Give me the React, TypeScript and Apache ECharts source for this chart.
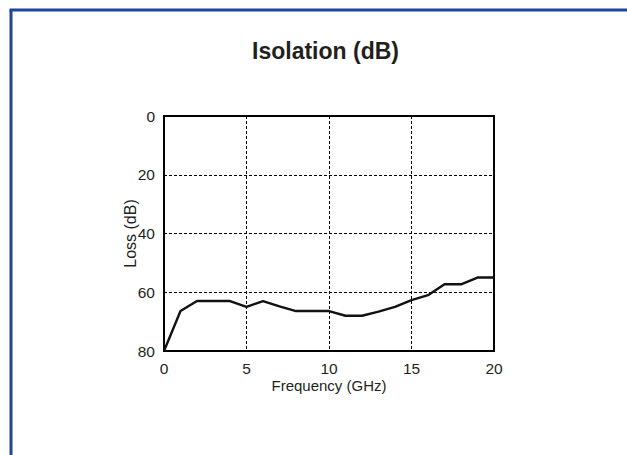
import React, { useEffect, useRef } from "react";
import * as echarts from "echarts";

const frequencies = [0, 1, 2, 3, 4, 5, 6, 7, 8, 9, 10, 11, 12, 13, 14, 15, 16, 17, 18, 19, 20];
const isolation = [80, 66.4, 63, 63, 63, 65, 63, 64.8, 66.4, 66.4, 66.4, 68, 68, 66.6, 65, 62.7, 61, 57.3, 57.3, 55, 55];
const titleText = "Isolation (dB)";
const xName = "Frequency (GHz)";
const yName = "Loss (dB)";

const FONT = "'Liberation Sans', Arial, Helvetica, sans-serif";
const TXT = "#231f20";

export default function App() {
  const ref = useRef<HTMLDivElement>(null);
  useEffect(() => {
    if (!ref.current) return;
    const chart = echarts.init(ref.current, null, { renderer: "svg" });
    chart.setOption({
      animation: false,
      backgroundColor: "#ffffff",
      title: {
        text: titleText,
        left: 320.5,
        textAlign: "center",
        top: 34,
        textStyle: { fontFamily: FONT, fontSize: 23, fontWeight: "bold", color: TXT },
      },
      graphic: [
        { type: "line", shape: { x1: 11, y1: 10, x2: 11, y2: 455 }, style: { stroke: "#1f4596", lineWidth: 3 } },
        { type: "line", shape: { x1: 9.5, y1: 10, x2: 627, y2: 10 }, style: { stroke: "#1f4596", lineWidth: 3 } },
      ],
      grid: {
        left: 164,
        top: 116,
        width: 330,
        height: 235,
        show: true,
        borderColor: "#000",
        borderWidth: 2,
        backgroundColor: "transparent",
      },
      xAxis: {
        type: "value",
        min: 0,
        max: 20,
        interval: 5,
        name: xName,
        nameLocation: "middle",
        nameGap: 27,
        nameMoveOverlap: false,
        nameTextStyle: { fontFamily: FONT, fontSize: 15, color: TXT },
        axisLine: { show: false },
        axisTick: { show: false },
        axisLabel: { fontFamily: FONT, fontSize: 15.5, color: TXT, margin: 9 },
        splitLine: { show: true, lineStyle: { color: "#000", width: 1, type: [3, 2] } },
      },
      yAxis: {
        type: "value",
        min: 0,
        max: 80,
        interval: 20,
        inverse: true,
        name: yName,
        nameLocation: "middle",
        nameGap: 26,
        nameMoveOverlap: false,
        nameTextStyle: { fontFamily: FONT, fontSize: 16, color: TXT },
        axisLine: { show: false },
        axisTick: { show: false },
        axisLabel: { fontFamily: FONT, fontSize: 15.5, color: TXT, margin: 9 },
        splitLine: { show: true, lineStyle: { color: "#000", width: 1, type: [3, 2] } },
      },
      series: [
        {
          type: "line",
          data: frequencies.map((f, i) => [f, isolation[i]]),
          showSymbol: false,
          symbol: "none",
          lineStyle: { color: "#111", width: 2.4 },
          z: 5,
        },
      ],
    });
    return () => chart.dispose();
  }, []);
  return (
    <div
      ref={ref}
      style={{ position: "fixed", left: 0, top: 0, width: 627, height: 455, background: "#fff" }}
    />
  );
}
